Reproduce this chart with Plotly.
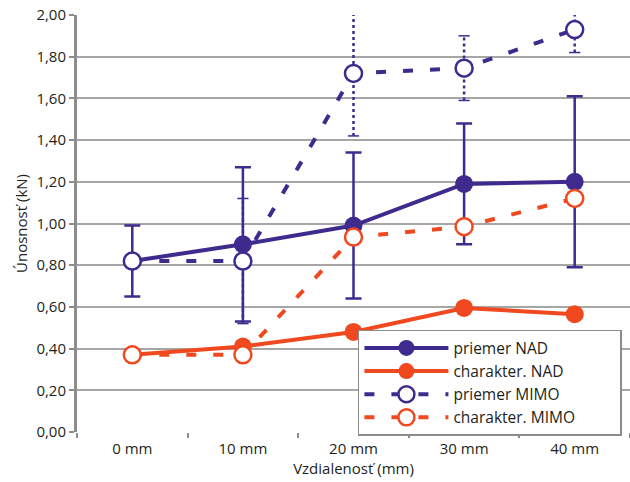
import plotly.graph_objects as go

categories = ["0 mm", "10 mm", "20 mm", "30 mm", "40 mm"]
priemer_nad = [0.82, 0.90, 0.99, 1.19, 1.20]
priemer_nad_err = [0.17, 0.37, 0.35, 0.29, 0.41]
charakter_nad = [0.37, 0.41, 0.48, 0.595, 0.565]
priemer_mimo = [0.82, 0.82, 1.72, 1.745, 1.93]
priemer_mimo_err = [0.0, 0.30, 0.30, 0.155, 0.11]
charakter_mimo = [0.37, 0.37, 0.935, 0.985, 1.12]
y_ticks = [0, 0.2, 0.4, 0.6, 0.8, 1.0, 1.2, 1.4, 1.6, 1.8, 2.0]
series_names = ["priemer NAD", "charakter. NAD", "priemer MIMO", "charakter. MIMO"]

BLUE = "#3f2a8e"
RED = "#f0481f"
FONT = "Open Sans"
TXT = "#231f20"
PAD = "\u00a0" * 10  # right padding inside the legend box

fig = go.Figure()

fig.add_trace(go.Scatter(
    x=categories, y=priemer_nad, name=series_names[0], mode="lines+markers",
    line=dict(color=BLUE, width=4),
    marker=dict(color=BLUE, size=18, symbol="circle"),
    error_y=dict(type="data", array=priemer_nad_err, visible=True,
                 color=BLUE, thickness=2.5, width=8),
))
fig.add_trace(go.Scatter(
    x=categories, y=charakter_nad, name=series_names[1], mode="lines+markers",
    line=dict(color=RED, width=4),
    marker=dict(color=RED, size=18, symbol="circle"),
))

# dotted error bars for priemer MIMO
ex, ey = [], []
for c, v, e in zip(categories, priemer_mimo, priemer_mimo_err):
    if e > 0:
        ex += [c, c, None]
        ey += [v - e, v + e, None]
fig.add_trace(go.Scatter(
    x=ex, y=ey, mode="lines+markers", showlegend=False, hoverinfo="skip",
    connectgaps=False,
    line=dict(color=BLUE, width=2.5, dash="dot"),
    marker=dict(symbol="line-ew-open", size=8, line=dict(color=BLUE, width=1.5)),
))

fig.add_trace(go.Scatter(
    x=categories, y=priemer_mimo, name=series_names[2], mode="lines+markers",
    line=dict(color=BLUE, width=4, dash="10px,17px"),
    marker=dict(color="white", size=17, symbol="circle",
                line=dict(color=BLUE, width=2.5)),
))
fig.add_trace(go.Scatter(
    x=categories, y=charakter_mimo, name=series_names[3] + PAD, mode="lines+markers",
    line=dict(color=RED, width=4, dash="10px,17px"),
    marker=dict(color="white", size=17, symbol="circle",
                line=dict(color=RED, width=2.5)),
))

fig.update_layout(
    width=630, height=490,
    margin=dict(l=77, r=0, t=15, b=58),
    paper_bgcolor="white", plot_bgcolor="white",
    separators=", ",
    font=dict(family=FONT, size=15, color=TXT),
    showlegend=True,
    legend=dict(
        x=0.508, y=0.245, xanchor="left", yanchor="top",
        bgcolor="white", bordercolor="#8c8c8c", borderwidth=1.5,
        font=dict(family=FONT, size=15.5, color=TXT),
        itemwidth=84, tracegroupgap=0,
    ),
    xaxis=dict(
        type="category", range=[-0.5, 4.5],
        tickson="boundaries", ticks="outside", ticklen=5,
        tickcolor="#8c8c8c", tickwidth=2,
        showgrid=False, showline=False, zeroline=False,
        tickfont=dict(family=FONT, size=15, color=TXT),
        ticklabelstandoff=6,
        title=dict(text="Vzdialenosť (mm)", font=dict(family=FONT, size=15, color=TXT), standoff=5),
    ),
    yaxis=dict(
        range=[0, 2.0], tickvals=y_ticks, tickformat=".2f",
        showgrid=True, gridcolor="#a6a6a6", gridwidth=2,
        showline=True, linecolor="#8c8c8c", linewidth=3,
        ticks="outside", ticklen=5, tickcolor="#8c8c8c", tickwidth=1.5,
        zeroline=False,
        tickfont=dict(family=FONT, size=15, color=TXT),
        title=dict(text="Únosnosť (kN)", font=dict(family=FONT, size=15, color=TXT), standoff=6),
    ),
)

fig.write_html(
    "out.html",
    config={"displayModeBar": False},
    post_script=(
        "document.body.style.margin='0';"
        "document.body.style.overflow='hidden';"
        "document.documentElement.style.overflow='hidden';"
    ),
)
